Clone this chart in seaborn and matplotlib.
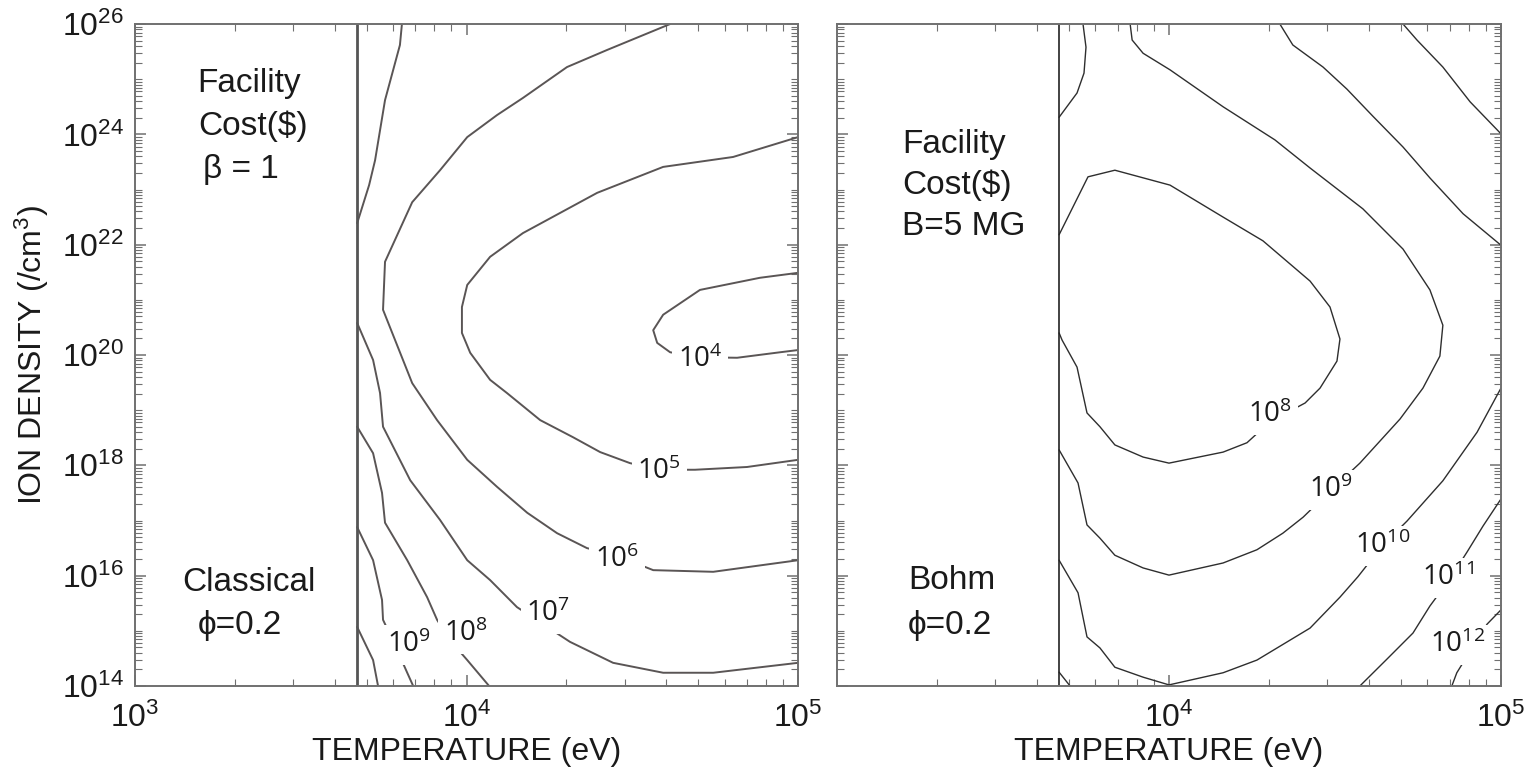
import numpy as np
import pandas as pd
import matplotlib
matplotlib.use("Agg")
import matplotlib.pyplot as plt
import matplotlib.ticker as mticker
import seaborn as sns

# all values are log10: temperature (eV) and ion density (/cm^3)
t_edge = 3.67  # lower temperature limit drawn as a vertical line

# ---- left panel: classical transport, beta = 1 ----
cl_1e4_T = [5.0, 4.885, 4.704, 4.593, 4.563, 4.575, 4.614, 4.704, 4.816, 4.946, 5.0]
cl_1e4_n = [21.49, 21.40, 21.18, 20.73, 20.45, 20.22, 20.05, 19.96, 19.95, 20.05, 20.09]

cl_1e5_T = [5.0, 4.804, 4.593, 4.394, 4.170, 4.071, 4.002, 3.986, 3.986, 4.011, 4.071,
            4.122, 4.222, 4.321, 4.403, 4.493, 4.584, 4.689, 4.846, 5.0]
cl_1e5_n = [23.95, 23.59, 23.41, 22.94, 22.21, 21.78, 21.27, 20.87, 20.40, 20.04, 19.55,
            19.31, 18.82, 18.51, 18.24, 18.04, 17.92, 17.92, 17.97, 18.10]

cl_1e6_T = [4.614, 4.424, 4.303, 4.170, 4.092, 4.002, 3.920, 3.836, 3.754, 3.748, 3.836,
            3.911, 4.002, 4.092, 4.183, 4.273, 4.363, 4.454, 4.563, 4.744, 5.0]
cl_1e6_n = [26.0, 25.53, 25.22, 24.66, 24.35, 23.95, 23.35, 22.77, 21.69, 20.82, 19.49,
            18.82, 18.10, 17.61, 17.14, 16.77, 16.50, 16.36, 16.10, 16.07, 16.28]

cl_1e7a_T = [3.805, 3.799, 3.754, 3.724, 3.706, 3.670]
cl_1e7a_n = [26.0, 25.62, 24.62, 23.53, 23.08, 22.39]

cl_1e7b_T = [3.670, 3.718, 3.739, 3.748, 3.830, 3.920, 4.002, 4.071, 4.152, 4.312, 4.442,
             4.593, 4.744, 5.0]
cl_1e7b_n = [20.58, 19.91, 19.31, 18.70, 17.73, 17.01, 16.28, 15.92, 15.43, 14.80, 14.42,
             14.24, 14.24, 14.42]

cl_1e8_T = [3.670, 3.718, 3.745, 3.754, 3.821, 3.881, 3.911, 3.950, 4.002, 4.068]
cl_1e8_n = [18.70, 18.22, 17.50, 16.96, 16.28, 15.61, 15.20, 14.83, 14.47, 14.0]

cl_1e9_T = [3.670, 3.718, 3.745, 3.748, 3.784, 3.821, 3.839]
cl_1e9_n = [16.88, 16.28, 15.56, 15.20, 14.74, 14.24, 14.0]

cl_1e10_T = [3.670, 3.718, 3.733]
cl_1e10_n = [15.07, 14.47, 14.0]

cl_labels = ["4", "5", "6", "7", "8", "9"]
cl_label_T = [4.704, 4.581, 4.454, 4.246, 3.998, 3.827]
cl_label_n = [19.91, 17.88, 16.28, 15.31, 14.94, 14.74]

# ---- right panel: Bohm transport, B = 5 MG ----
bo_1e7_T = [3.741, 3.750, 3.744, 3.723, 3.669]
bo_1e7_n = [26.0, 25.58, 25.11, 24.75, 24.31]

bo_1e8_T = [3.669, 3.756, 3.837, 4.003, 4.163, 4.283, 4.425, 4.485, 4.515, 4.506, 4.455,
            4.410, 4.304, 4.235, 4.163, 4.0, 3.922, 3.837, 3.792, 3.753, 3.723, 3.678, 3.669]
bo_1e8_n = [22.18, 23.23, 23.35, 23.08, 22.50, 22.07, 21.34, 20.87, 20.29, 19.89, 19.40,
            19.13, 18.79, 18.41, 18.24, 18.04, 18.15, 18.37, 18.70, 18.95, 19.78, 20.27, 20.40]

bo_1e9_T = [3.883, 3.889, 3.922, 4.003, 4.163, 4.319, 4.425, 4.584, 4.705, 4.786, 4.825,
            4.816, 4.765, 4.696, 4.575, 4.488, 4.404, 4.343, 4.265, 4.163, 4.0, 3.922,
            3.837, 3.792, 3.753, 3.726, 3.669]
bo_1e9_n = [26.0, 25.71, 25.47, 25.17, 24.50, 23.90, 23.39, 22.65, 21.92, 21.18, 20.54,
            19.98, 19.40, 18.84, 18.04, 17.55, 17.06, 16.77, 16.47, 16.23, 16.01, 16.14,
            16.37, 16.68, 16.92, 17.68, 18.28]

bo_1e10a_T = [4.334, 4.373, 4.464, 4.536, 4.614, 4.705, 4.786, 4.886, 5.0]
bo_1e10a_n = [26.0, 25.62, 25.22, 24.82, 24.33, 23.77, 23.21, 22.56, 21.99]

bo_1e10b_T = [3.669, 3.726, 3.753, 3.792, 3.837, 3.922, 4.0, 4.163, 4.265, 4.425, 4.515,
              4.569, 4.645, 4.717, 4.825, 4.928, 5.0]
bo_1e10b_n = [16.28, 15.69, 14.89, 14.69, 14.34, 14.16, 14.02, 14.24, 14.47, 15.05, 15.61,
              15.98, 16.56, 16.99, 17.72, 18.60, 19.40]

bo_1e11a_T = [4.705, 4.747, 4.825, 4.907, 5.0]
bo_1e11a_n = [26.0, 25.71, 25.22, 24.59, 24.01]

bo_1e11b_T = [4.575, 4.657, 4.735, 4.786, 4.846, 4.898, 4.946, 5.0]
bo_1e11b_n = [14.0, 14.49, 14.96, 15.45, 15.94, 16.43, 16.90, 17.39]

bo_1e11c_T = [3.669, 3.702]
bo_1e11c_n = [14.25, 14.0]

bo_1e12_T = [4.852, 4.867, 4.958, 5.0]
bo_1e12_n = [14.0, 14.24, 15.12, 15.38]

bo_labels = ["8", "9", "10", "11", "12"]
bo_label_T = [4.304, 4.488, 4.645, 4.840, 4.870]
bo_label_n = [18.91, 17.55, 16.54, 15.96, 14.74]

left_lines = [(cl_1e4_T, cl_1e4_n), (cl_1e5_T, cl_1e5_n), (cl_1e6_T, cl_1e6_n),
              (cl_1e7a_T, cl_1e7a_n), (cl_1e7b_T, cl_1e7b_n), (cl_1e8_T, cl_1e8_n),
              (cl_1e9_T, cl_1e9_n), (cl_1e10_T, cl_1e10_n)]
right_lines = [(bo_1e7_T, bo_1e7_n), (bo_1e8_T, bo_1e8_n), (bo_1e9_T, bo_1e9_n),
               (bo_1e10a_T, bo_1e10a_n), (bo_1e10b_T, bo_1e10b_n), (bo_1e11a_T, bo_1e11a_n),
               (bo_1e11b_T, bo_1e11b_n), (bo_1e11c_T, bo_1e11c_n), (bo_1e12_T, bo_1e12_n)]

sns.set_theme(style="ticks")
plt.rcParams['font.family'] = ['Liberation Sans', 'DejaVu Sans']
plt.rcParams['axes.unicode_minus'] = False

fig = plt.figure(figsize=(15.33, 7.7), dpi=100)
ax1 = fig.add_axes([0.0881, 0.1091, 0.4325, 0.8597])
ax2 = fig.add_axes([0.5460, 0.1091, 0.4331, 0.8597])


def draw_lines(ax, lines, color, lw):
    for lt, ln in lines:
        df = pd.DataFrame({"T": 10 ** np.array(lt), "n": 10 ** np.array(ln)})
        sns.lineplot(data=df, x="T", y="n", sort=False, estimator=None, ax=ax,
                     color=color, lw=lw)


def style_axes(ax, spine_color):
    ax.set_xscale("log")
    ax.set_yscale("log")
    ax.set_xlim(1e3, 1e5)
    ax.set_ylim(1e14, 1e26)
    ax.yaxis.set_major_locator(mticker.FixedLocator([10.0 ** k for k in range(14, 27, 2)]))
    ax.yaxis.set_major_formatter(mticker.LogFormatterSciNotation())
    ax.yaxis.set_minor_locator(mticker.LogLocator(base=10, subs=np.arange(1, 10), numticks=200))
    ax.yaxis.set_minor_formatter(mticker.NullFormatter())
    ax.xaxis.set_minor_locator(mticker.LogLocator(base=10, subs=np.arange(2, 10), numticks=50))
    ax.xaxis.set_minor_formatter(mticker.NullFormatter())
    ax.tick_params(which="both", direction="in", top=True, right=True,
                   color=spine_color, labelsize=23, labelcolor="#1a1a1a")
    ax.tick_params(which="major", length=8, width=1.1)
    ax.tick_params(which="minor", length=5, width=0.8)
    ax.tick_params(axis="x", pad=12)
    ax.tick_params(axis="y", pad=8)
    for s in ax.spines.values():
        s.set_color(spine_color)
        s.set_linewidth(1.4)
        s.set_visible(True)
    ax.set_xlabel("TEMPERATURE (eV)", fontsize=23, color="#1a1a1a", labelpad=2)
    ax.set_ylabel("")


draw_lines(ax1, left_lines, "#5a5555", 1.4)
draw_lines(ax2, right_lines, "#2e2e2e", 1.0)
ax1.axvline(10 ** t_edge, color="#555555", lw=2.0)
ax2.axvline(10 ** t_edge, color="#222222", lw=1.2)

style_axes(ax1, "#707070")
style_axes(ax2, "#707070")
ax1.set_xticks([1e3, 1e4, 1e5])
ax2.set_xticks([1e4, 1e5])
ax2.tick_params(axis="y", labelleft=False)
ax1.set_ylabel(r"ION DENSITY (/cm$\mathdefault{^3}$)", fontsize=23, color="#1a1a1a", labelpad=8)

lab_box = dict(boxstyle="square,pad=0.2", fc="white", ec="none")
for lab, lt, ln in zip(cl_labels, cl_label_T, cl_label_n):
    ax1.text(10 ** lt, 10 ** ln, r"$\mathdefault{10^{%s}}$" % lab, ha="center", va="center",
             fontsize=20, family="Open Sans", color="#1a1a1a", bbox=lab_box, zorder=5)
for lab, lt, ln in zip(bo_labels, bo_label_T, bo_label_n):
    ax2.text(10 ** lt, 10 ** ln, r"$\mathdefault{10^{%s}}$" % lab, ha="center", va="center",
             fontsize=20, family="Open Sans", color="#1a1a1a", bbox=lab_box, zorder=5)

txt = dict(fontsize=24, color="#1a1a1a", va="center", family=["Liberation Sans", "DejaVu Sans"])
ax1.text(0.172, 0.910, "Facility", transform=ax1.transAxes, ha="center", **txt)
ax1.text(0.178, 0.846, "Cost($)", transform=ax1.transAxes, ha="center", **txt)
ax1.text(0.160, 0.780, "\u03b2 = 1", transform=ax1.transAxes, ha="center", **txt)
ax1.text(0.172, 0.157, "Classical", transform=ax1.transAxes, ha="center", **txt)
ax1.text(0.158, 0.092, "\u03d5=0.2", transform=ax1.transAxes, ha="center", **txt)

ax2.text(0.098, 0.818, "Facility", transform=ax2.transAxes, ha="left", **txt)
ax2.text(0.098, 0.756, "Cost($)", transform=ax2.transAxes, ha="left", **txt)
ax2.text(0.098, 0.694, "B=5 MG", transform=ax2.transAxes, ha="left", **txt)
ax2.text(0.107, 0.159, "Bohm", transform=ax2.transAxes, ha="left", **txt)
ax2.text(0.107, 0.092, "\u03d5=0.2", transform=ax2.transAxes, ha="left", **txt)

fig.savefig("out.png", dpi=100)
